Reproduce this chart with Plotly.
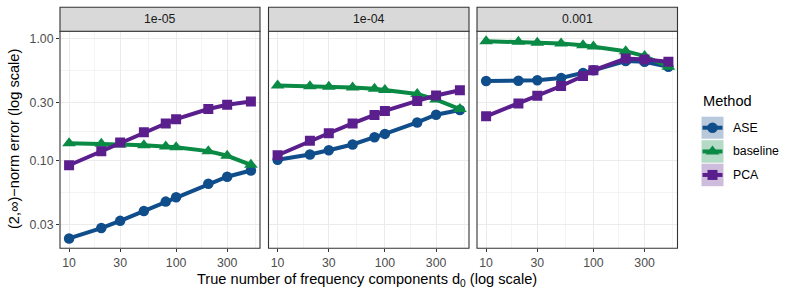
import plotly.graph_objects as go
import numpy as np

# ---------------- data ----------------
d0 = [10, 20, 30, 50, 80, 100, 200, 300, 500]
panels = ["1e-05", "1e-04", "0.001"]
methods = ["ASE", "baseline", "PCA"]

ase_1e05 = [0.0232, 0.0282, 0.0323, 0.0389, 0.0464, 0.0503, 0.065, 0.0741, 0.0834]
base_1e05 = [0.139, 0.138, 0.136, 0.134, 0.131, 0.129, 0.120, 0.110, 0.0927]
pca_1e05 = [0.092, 0.120, 0.141, 0.171, 0.202, 0.219, 0.265, 0.287, 0.305]

ase_1e04 = [0.102, 0.1125, 0.122, 0.136, 0.156, 0.166, 0.206, 0.238, 0.260]
base_1e04 = [0.412, 0.407, 0.404, 0.397, 0.389, 0.380, 0.352, 0.317, 0.265]
pca_1e04 = [0.111, 0.146, 0.168, 0.202, 0.237, 0.256, 0.309, 0.342, 0.378]

ase_1e03 = [0.450, 0.452, 0.455, 0.476, 0.522, 0.549, 0.654, 0.645, 0.588]
base_1e03 = [0.951, 0.940, 0.921, 0.910, 0.882, 0.861, 0.788, 0.718, 0.588]
pca_1e03 = [0.231, 0.294, 0.340, 0.409, 0.494, 0.549, 0.687, 0.674, 0.645]

series = {
    "1e-05": {"ASE": ase_1e05, "baseline": base_1e05, "PCA": pca_1e05},
    "1e-04": {"ASE": ase_1e04, "baseline": base_1e04, "PCA": pca_1e04},
    "0.001": {"ASE": ase_1e03, "baseline": base_1e03, "PCA": pca_1e03},
}

x_ticks = [10, 30, 100, 300]
x_ticklabels = ["10", "30", "100", "300"]
y_ticks = [0.03, 0.1, 0.3, 1.0]
y_ticklabels = ["0.03", "0.10", "0.30", "1.00"]

# ---------------- style ----------------
W, H = 793, 297
colors = {"ASE": "#104D8B", "baseline": "#0A8A45", "PCA": "#5B1E8D"}
keybg = {"ASE": "#B9C9DC", "baseline": "#B3DBC5", "PCA": "#CDBCDC"}
symbols = {"ASE": "circle", "baseline": "triangle-up", "PCA": "square"}
msize = {"ASE": 10.5, "baseline": 12, "PCA": 10}
FONT = "Liberation Sans, Arial, sans-serif"
SMALL = 12.3
BIG = 14.6

panel_px = [(60, 260), (268.5, 469), (477, 677.5)]
plot_top, plot_bot = 31.3, 248.3
strip_top = 7.3

def px(x):
    return x / W

def py(y):
    return 1 - y / H

xmin, xmax = np.log10(min(d0)), np.log10(max(d0))
xr = [xmin - 0.05 * (xmax - xmin), xmax + 0.05 * (xmax - xmin)]
allv = [v for p in series.values() for s in p.values() for v in s]
ymin, ymax = np.log10(min(allv)), np.log10(max(allv))
yr = [ymin - 0.05 * (ymax - ymin), ymax + 0.05 * (ymax - ymin)]

def log_mids(vals):
    return [float(np.sqrt(a * b)) for a, b in zip(vals[:-1], vals[1:])]

x_minor = log_mids([3] + x_ticks + [1000])
y_minor = log_mids([0.01] + y_ticks + [3])

fig = go.Figure()
shapes = []
annotations = []

for i, pname in enumerate(panels):
    xa = "x" if i == 0 else f"x{i+1}"
    ya = "y" if i == 0 else f"y{i+1}"
    for m in methods:
        fig.add_trace(go.Scatter(
            x=d0, y=series[pname][m], mode="lines+markers",
            line=dict(color=colors[m], width=4),
            marker=dict(symbol=symbols[m], size=msize[m], color=colors[m], line=dict(width=0)),
            xaxis=xa, yaxis=ya, showlegend=False, name=m,
        ))
    x0, x1 = panel_px[i]
    axkey = "xaxis" if i == 0 else f"xaxis{i+1}"
    aykey = "yaxis" if i == 0 else f"yaxis{i+1}"
    fig.layout[axkey] = dict(
        type="log", domain=[px(x0), px(x1)], range=xr, anchor=ya, automargin=False,
        tickvals=x_ticks, ticktext=x_ticklabels, ticks="outside", ticklen=3,
        tickcolor="#333333", tickwidth=1,
        tickfont=dict(family=FONT, size=SMALL, color="#4D4D4D"),
        showgrid=True, gridcolor="#EBEBEB", gridwidth=1.1, zeroline=False,
        showline=False,
        minor=dict(tickvals=x_minor, showgrid=True, gridcolor="#EBEBEB", gridwidth=0.55, ticks=""),
    )
    fig.layout[aykey] = dict(
        type="log", domain=[py(plot_bot), py(plot_top)], range=yr, anchor=xa, automargin=False,
        tickvals=y_ticks, ticktext=y_ticklabels,
        ticks="outside" if i == 0 else "", ticklen=3, tickcolor="#333333", tickwidth=1,
        showticklabels=(i == 0),
        tickfont=dict(family=FONT, size=SMALL, color="#4D4D4D"),
        showgrid=True, gridcolor="#EBEBEB", gridwidth=1.1, zeroline=False,
        showline=False,
        minor=dict(tickvals=y_minor, showgrid=True, gridcolor="#EBEBEB", gridwidth=0.55, ticks=""),
    )
    # panel border
    shapes.append(dict(type="rect", xref="paper", yref="paper",
                       x0=px(x0), x1=px(x1), y0=py(plot_bot), y1=py(plot_top),
                       line=dict(color="#333333", width=1.1), fillcolor="rgba(0,0,0,0)", layer="above"))
    # strip
    shapes.append(dict(type="rect", xref="paper", yref="paper",
                       x0=px(x0), x1=px(x1), y0=py(plot_top), y1=py(strip_top),
                       line=dict(color="#333333", width=1.1), fillcolor="#D9D9D9", layer="above"))
    annotations.append(dict(text=pname, xref="paper", yref="paper",
                            x=px((x0 + x1) / 2), y=py((strip_top + plot_top) / 2),
                            showarrow=False, xanchor="center", yanchor="middle",
                            font=dict(family=FONT, size=SMALL, color="#1A1A1A")))

# axis titles
annotations.append(dict(text="True number of frequency components d<sub>0</sub> (log scale)",
                        xref="paper", yref="paper", x=px(367), y=py(280),
                        showarrow=False, xanchor="center", yanchor="middle",
                        font=dict(family=FONT, size=BIG, color="#000000")))
annotations.append(dict(text="(2,∞)−norm error (log scale)",
                        xref="paper", yref="paper", x=px(14), y=py(139),
                        showarrow=False, xanchor="center", yanchor="middle", textangle=-90,
                        font=dict(family=FONT, size=BIG, color="#000000")))

# ---------------- legend (manual) ----------------
key_x0, key_x1 = 701.5, 723.5
key_rows = {"ASE": (116.7, 138.7), "baseline": (140.2, 162.7), "PCA": (163.7, 186.2)}
annotations.append(dict(text="Method", xref="paper", yref="paper", x=px(700.5), y=py(101),
                        showarrow=False, xanchor="left", yanchor="middle",
                        font=dict(family=FONT, size=BIG, color="#000000")))
for m in methods:
    t, b = key_rows[m]
    shapes.append(dict(type="rect", xref="paper", yref="paper",
                       x0=px(key_x0), x1=px(key_x1), y0=py(b), y1=py(t),
                       line=dict(width=0), fillcolor=keybg[m], layer="below"))
    annotations.append(dict(text=m, xref="paper", yref="paper", x=px(730.5), y=py((t + b) / 2),
                            showarrow=False, xanchor="left", yanchor="middle",
                            font=dict(family=FONT, size=SMALL, color="#000000")))
    cy = (t + b) / 2
    fig.add_trace(go.Scatter(
        x=[key_x0 + 1, (key_x0 + key_x1) / 2, key_x1 - 1], y=[cy, cy, cy],
        mode="lines", line=dict(color=colors[m], width=4),
        xaxis="x4", yaxis="y4", showlegend=False, hoverinfo="skip"))
    fig.add_trace(go.Scatter(
        x=[(key_x0 + key_x1) / 2], y=[cy], mode="markers",
        marker=dict(symbol=symbols[m], size=msize[m], color=colors[m], line=dict(width=0)),
        xaxis="x4", yaxis="y4", showlegend=False, hoverinfo="skip"))

fig.layout["xaxis4"] = dict(domain=[px(690), px(735)], range=[690, 735], visible=False,
                            anchor="y4", fixedrange=True, automargin=False)
fig.layout["yaxis4"] = dict(domain=[py(200), py(105)], range=[200, 105], visible=False,
                            anchor="x4", fixedrange=True, automargin=False)

fig.update_layout(
    width=W, height=H, margin=dict(l=0, r=0, t=0, b=0, pad=0),
    paper_bgcolor="white", plot_bgcolor="white",
    shapes=shapes, annotations=annotations, showlegend=False,
    font=dict(family=FONT), hovermode=False,
)

fig.write_html("out.html", config={"displayModeBar": False, "staticPlot": True},
               post_script="document.body.style.margin='0px';document.body.style.padding='0px';")
